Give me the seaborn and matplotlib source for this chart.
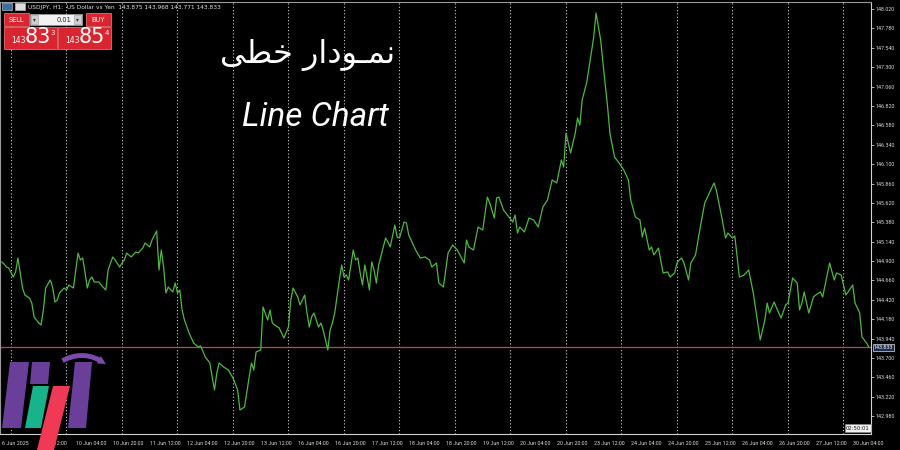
import matplotlib
matplotlib.use("Agg")
import matplotlib.pyplot as plt
import matplotlib.transforms as mtransforms
from matplotlib.patches import Rectangle, Polygon, FancyArrowPatch
import seaborn as sns
import pandas as pd

# ---------------- data (hourly bars, USDJPY H1 close) ----------------
bars = [0, 1, 2, 3, 5, 6, 7, 9, 10, 12, 13, 14, 16, 17, 18, 19, 21, 22, 23, 24,
        25, 27, 28, 29, 31, 33, 34, 35, 36, 37, 38, 39, 40, 42, 43, 45, 46, 48, 49, 51,
        52, 53, 54, 56, 58, 59, 61, 62, 64, 65, 67, 68, 69, 70, 71, 72, 74, 75, 76, 77,
        78, 79, 81, 82, 83, 85, 86, 88, 90, 91, 92, 93, 94, 96, 98, 100, 102, 103, 105, 107,
        108, 109, 110, 112, 113, 115, 116, 117, 118, 120, 121, 122, 124, 125, 126, 128, 129, 130, 131, 132,
        133, 134, 135, 137, 138, 139, 141, 142, 143, 144, 146, 147, 148, 149, 150, 152, 153, 154, 155, 156,
        157, 158, 159, 160, 161, 162, 163, 166, 167, 168, 170, 171, 172, 174, 175, 176, 179, 181, 183, 185,
        186, 188, 189, 191, 193, 195, 197, 200, 201, 202, 204, 206, 208, 210, 211, 213, 214, 215, 217, 218,
        221, 222, 223, 224, 226, 228, 230, 232, 234, 236, 238, 240, 242, 243, 244, 245, 246, 248, 249, 250,
        251, 253, 254, 256, 257, 259, 260, 262, 263, 265, 267, 269, 271, 272, 274, 276, 277, 278, 280, 281,
        282, 284, 286, 288, 289, 291, 292, 293, 294, 295, 297, 298, 300, 302, 304, 306, 307, 308, 309, 311,
        313, 314, 316, 317, 319, 321, 323, 325, 328, 330, 331, 332, 334, 336, 337, 339, 340, 342, 344, 345,
        346, 347, 349, 351, 352, 354, 355, 358, 360, 361, 363, 365, 366, 368, 369, 371, 372, 374, 375]
prices = [144.889, 144.864, 144.827, 144.815, 144.703, 144.765, 144.938, 144.567, 144.480, 144.443,
          144.381, 144.208, 144.134, 144.109, 144.295, 144.567, 144.666, 144.579, 144.394, 144.419,
          144.505, 144.567, 144.542, 144.604, 144.567, 145.000, 144.914, 144.938, 144.765, 144.567,
          144.666, 144.703, 144.641, 144.641, 144.604, 144.542, 144.790, 144.951, 144.914, 144.827,
          144.877, 144.914, 145.000, 144.951, 145.013, 145.000, 145.062, 145.124, 145.075, 145.161,
          145.273, 144.790, 145.037, 144.827, 144.505, 144.579, 144.518, 144.629, 144.505, 144.542,
          144.295, 144.171, 144.010, 143.948, 143.886, 143.837, 143.850, 143.713, 143.639, 143.466,
          143.305, 143.515, 143.639, 143.589, 143.552, 143.453, 143.305, 143.057, 143.094, 143.466,
          143.639, 143.552, 143.775, 143.800, 144.332, 144.171, 144.295, 144.134, 144.109, 144.072,
          144.010, 143.948, 144.084, 144.419, 144.567, 144.456, 144.357, 144.419, 144.480, 144.258,
          144.084, 144.208, 144.258, 144.084, 144.134, 144.047, 143.800, 144.047, 144.134, 144.258,
          144.666, 144.852, 144.703, 144.728, 144.666, 145.037, 144.914, 144.938, 144.753, 144.604,
          144.852, 144.703, 144.542, 144.889, 144.790, 144.629, 144.852, 145.186, 145.136, 145.075,
          145.347, 145.198, 145.186, 145.384, 145.372, 145.223, 145.037, 144.938, 144.951, 144.914,
          144.827, 144.877, 144.629, 144.579, 145.000, 145.099, 145.037, 144.877, 145.161, 145.075,
          145.037, 145.322, 145.285, 145.693, 145.619, 145.433, 145.681, 145.693, 145.532, 145.495,
          145.384, 145.471, 145.248, 145.322, 145.260, 145.433, 145.409, 145.322, 145.570, 145.656,
          145.904, 145.867, 146.151, 146.065, 146.485, 146.362, 146.238, 146.485, 146.671, 146.584,
          146.894, 147.117, 147.302, 147.673, 147.970, 147.636, 147.352, 146.807, 146.485, 146.188,
          146.114, 146.027, 145.904, 145.656, 145.446, 145.409, 145.198, 145.310, 145.037, 145.075,
          144.976, 145.062, 144.753, 144.765, 144.703, 144.753, 144.877, 144.914, 144.938, 144.877,
          144.666, 144.877, 144.976, 145.310, 145.619, 145.743, 145.805, 145.867, 145.780, 145.495,
          145.186, 145.248, 145.186, 145.211, 144.703, 144.728, 144.790, 144.505, 143.924, 144.171,
          144.381, 144.258, 144.394, 144.258, 144.196, 144.357, 144.381, 144.691, 144.629, 144.295,
          144.381, 144.518, 144.258, 144.456, 144.480, 144.518, 144.456, 144.877, 144.666, 144.753,
          144.728, 144.480, 144.518, 144.604, 144.381, 144.258, 143.961, 143.886, 143.833]

tick_bars = [0, 16, 32, 48, 64, 80, 96, 112, 128, 144, 160, 176, 192, 208, 224, 240,
             256, 272, 288, 304, 320, 336, 352, 368]
tick_labels = ["6 Jun 2025", "9 Jun 12:00", "10 Jun 04:00", "10 Jun 20:00", "11 Jun 12:00",
               "12 Jun 04:00", "12 Jun 20:00", "13 Jun 12:00", "16 Jun 04:00", "16 Jun 20:00",
               "17 Jun 12:00", "18 Jun 04:00", "18 Jun 20:00", "19 Jun 12:00", "20 Jun 04:00",
               "20 Jun 20:00", "23 Jun 12:00", "24 Jun 04:00", "24 Jun 20:00", "25 Jun 12:00",
               "26 Jun 04:00", "26 Jun 20:00", "27 Jun 12:00", "30 Jun 04:00"]
day_starts = [4, 28, 52, 76, 100, 124, 148, 172, 196, 220, 244, 268, 292, 316, 340, 364]
price_ticks = [142.980, 143.220, 143.460, 143.700, 143.940, 144.180, 144.420, 144.660,
               144.900, 145.140, 145.380, 145.620, 145.860, 146.100, 146.340, 146.580,
               146.820, 147.060, 147.300, 147.540, 147.780, 148.020]
current_price = 143.833
header = "USDJPY, H1:  US Dollar vs Yen  143.875 143.968 143.771 143.833"
title_fa = "\uFEF0\uFEC4\uFEA7 \uFEAD\uFE8D\uFEA9\uFEEE\u0640\uFEE4\uFEE7"  # نمودار خطی (visual order)
title_en = "Line Chart"

# ---------------- figure ----------------
sns.set_style("dark")
plt.rcParams["font.family"] = ["DejaVu Sans"]

fig = plt.figure(figsize=(9, 4.5), dpi=100, facecolor="black")
ax = fig.add_axes([0.0, 16 / 450, 871 / 900, 432 / 450])
ax.set_facecolor("black")

df = pd.DataFrame({"bar": bars, "price": prices})
sns.lineplot(data=df, x="bar", y="price", ax=ax, color="#4fb840", lw=0.9,
             estimator=None, sort=False, zorder=3)

ax.set_xlim(-0.75, 375.9)
ax.set_ylim(142.76, 148.107)
ax.set_xlabel("")
ax.set_ylabel("")

# x ticks
ax.set_xticks(tick_bars)
ax.set_xticklabels(tick_labels, ha="left", family=["Liberation Sans Narrow", "Roboto", "DejaVu Sans"])
ax.set_xticks(day_starts, minor=True)
ax.tick_params(axis="x", which="major", length=3, width=0.6, color="#cccccc",
               labelsize=3.9, labelcolor="#d8d8d8", pad=2, direction="out")
ax.tick_params(axis="x", which="minor", length=0)
ax.grid(False)
ax.grid(which="minor", axis="x", color="#cfcfcf", lw=0.8, linestyle=(0, (1, 2)))

# y ticks
ax.yaxis.tick_right()
ax.set_yticks(price_ticks)
ax.set_yticklabels([f"{v:.3f}" for v in price_ticks], family=["Liberation Sans Narrow", "Roboto", "DejaVu Sans"])
ax.tick_params(axis="y", length=2.5, width=0.6, color="#cccccc", labelsize=3.9,
               labelcolor="#d8d8d8", pad=1, direction="out")

for side, col in [("top", "#9a9a9a"), ("left", "#9a9a9a"), ("right", "#d0d0d0"), ("bottom", "#d0d0d0")]:
    ax.spines[side].set_visible(True)
    ax.spines[side].set_color(col)
    ax.spines[side].set_linewidth(0.8)

# current price line and label
ax.axhline(current_price, color="#c9424c", lw=0.9, zorder=2)
trans = mtransforms.blended_transform_factory(ax.transAxes, ax.transData)
ax.text(1.003, current_price, f"{current_price:.3f}", transform=trans, fontsize=3.9,
        color="white", va="center", ha="left", clip_on=False,
        family=["Liberation Sans Narrow", "Roboto", "DejaVu Sans"],
        bbox=dict(boxstyle="square,pad=0.15", fc="#1d2b4f", ec="#dddddd", lw=0.5))

# ---------------- overlay (pixel coordinates) ----------------
ov = fig.add_axes([0, 0, 1, 1], zorder=5)
ov.set_xlim(0, 900)
ov.set_ylim(450, 0)
ov.axis("off")
ov.patch.set_alpha(0)

# header
ov.add_patch(Rectangle((2, 3), 10, 7, fc="#3c6ea8", ec="#cccccc", lw=0.4))
ov.add_patch(Rectangle((15, 3), 10, 7, fc="#dddddd", ec="#cccccc", lw=0.4))
ov.text(28, 7, header, fontsize=4.2, color="#e0e0e0", va="center", ha="left")

red = "#d92530"
# one-click trading panel
ov.add_patch(Rectangle((4, 13), 25, 13, fc=red, ec="#ff8080", lw=0.5))
ov.text(16.5, 19.5, "SELL", fontsize=4.8, color="white", ha="center", va="center")
ov.add_patch(Rectangle((30, 14), 52, 11, fc="#f2f2f2", ec="#999999", lw=0.5))
ov.add_patch(Rectangle((31, 15), 7, 9, fc="#d0d0d0", ec="#999999", lw=0.4))
ov.add_patch(Rectangle((74, 15), 7, 9, fc="#d0d0d0", ec="#999999", lw=0.4))
ov.text(34.5, 19.5, "\u25BE", fontsize=4, color="#333333", ha="center", va="center")
ov.text(77.5, 19.5, "\u25BE", fontsize=4, color="#333333", ha="center", va="center")
ov.text(71, 19.5, "0.01", fontsize=4.8, color="#222222", ha="right", va="center")
ov.add_patch(Rectangle((86, 13), 25, 13, fc=red, ec="#ff8080", lw=0.5))
ov.text(98.5, 19.5, "BUY", fontsize=4.8, color="white", ha="center", va="center")

for x0, big, sup in [(4, "83", "3"), (58, "85", "4")]:
    ov.add_patch(Rectangle((x0, 27), 53, 22, fc=red, ec="#ff8080", lw=0.5))
    ov.text(x0 + 14, 45, "143", fontsize=5.5, color="white", ha="center", va="bottom")
    ov.text(x0 + 34, 47, big, fontsize=15, color="white", ha="center", va="bottom")
    ov.text(x0 + 49, 30, sup, fontsize=5, color="white", ha="center", va="top")

# titles
ov.text(308, 55, title_fa, fontsize=23, color="white", ha="center", va="center",
        family=["DejaVu Sans"])
ov.text(315, 117, title_en, fontsize=24, color="white", ha="center", va="center",
        family=["Liberation Sans Narrow", "Roboto", "DejaVu Sans"], style="italic")

# time-to-close box
ov.text(858, 428, "02:50:01", fontsize=3.8, color="#111111", ha="center", va="center",
        bbox=dict(boxstyle="square,pad=0.2", fc="#f0f0f0", ec="#888888", lw=0.4))

# logo (watermark)
purple = "#6a3f9a"
ov.add_patch(Polygon([(10, 362), (29, 362), (21, 428), (2, 428)], closed=True, fc=purple, ec="none"))
ov.add_patch(Polygon([(32, 362), (50, 362), (48, 384), (30, 384)], closed=True, fc=purple, ec="none"))
ov.add_patch(Polygon([(33, 386), (49, 386), (41, 428), (25, 428)], closed=True, fc="#17b38a", ec="none"))
ov.add_patch(Polygon([(53, 386), (70, 386), (54, 450), (37, 450)], closed=True, fc="#f03a55", ec="none"))
ov.add_patch(Polygon([(75, 362), (92, 362), (86, 428), (68, 428)], closed=True, fc=purple, ec="none"))
ov.add_patch(FancyArrowPatch((60, 362), (108, 366), connectionstyle="arc3,rad=-0.35",
                             arrowstyle="simple,head_width=6,head_length=6,tail_width=3.5",
                             fc="#7b4bb0", ec="none"))

fig.savefig("out.png", dpi=100, facecolor="black")
